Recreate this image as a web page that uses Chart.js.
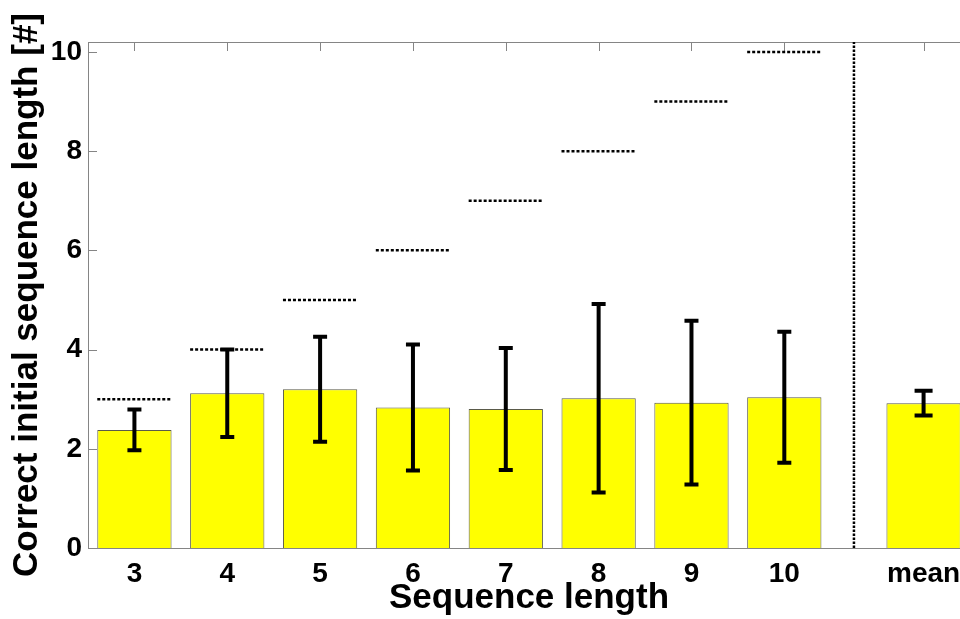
<!DOCTYPE html>
<html>
<head>
<meta charset="utf-8">
<script src="https://cdn.jsdelivr.net/npm/chart.js@4/dist/chart.umd.min.js"></script>
<style>
  html, body { margin: 0; padding: 0; background: #fff; overflow: hidden; }
  #wrap { width: 970px; height: 619px; }
</style>
</head>
<body>
<div id="wrap"><canvas id="chart" width="970" height="619"></canvas></div>
<script>
// positions on the x axis and their labels
const xPos = [1, 2, 3, 4, 5, 6, 7, 8, 9.5];
const xLabels = ['3', '4', '5', '6', '7', '8', '9', '10', 'mean'];
const yTicks = [0, 2, 4, 6, 8, 10];

// correct initial sequence length (mean and error)
const meanLen = [2.38, 3.12, 3.20, 2.83, 2.80, 3.02, 2.93, 3.04, 2.92];
const errLen = [0.41, 0.88, 1.06, 1.27, 1.23, 1.90, 1.65, 1.32, 0.25];

// full sequence length (dotted reference lines)
const targetLen = [3, 4, 5, 6, 7, 8, 9, 10];
const separatorX = 8.75;

const FONT = "'Liberation Sans', Arial, Helvetica, sans-serif";
const halfBar = 0.4;

const barData = xPos.map((x, i) => ({ x: x, y: meanLen[i] }));
const targetData = targetLen.map((t, i) => [
    { x: xPos[i] - halfBar, y: t },
    { x: xPos[i] + halfBar, y: t },
    { x: xPos[i] + halfBar, y: null }
]).flat();

// box + inward tick marks, like matlab axes
const frame = {
    id: 'frame',
    beforeDatasetsDraw(chart) {
        const { ctx, chartArea: a, scales: { x, y } } = chart;
        ctx.save();
        ctx.strokeStyle = '#858585';
        ctx.lineWidth = 1;
        ctx.strokeRect(Math.round(a.left) + 0.5, Math.round(a.top) + 0.5,
            Math.round(a.right - a.left), Math.round(a.bottom - a.top));
        ctx.beginPath();
        x.ticks.forEach(t => {
            const px = Math.round(x.getPixelForValue(t.value)) + 0.5;
            ctx.moveTo(px, a.bottom); ctx.lineTo(px, a.bottom - 9);
            ctx.moveTo(px, a.top); ctx.lineTo(px, a.top + 9);
        });
        y.ticks.forEach(t => {
            const py = Math.round(y.getPixelForValue(t.value)) + 0.5;
            ctx.moveTo(a.left, py); ctx.lineTo(a.left + 9, py);
            ctx.moveTo(a.right, py); ctx.lineTo(a.right - 9, py);
        });
        ctx.stroke();
        ctx.restore();
    }
};

const errorBars = {
    id: 'errorBars',
    afterDatasetsDraw(chart) {
        const { ctx, scales: { x, y } } = chart;
        ctx.save();
        ctx.strokeStyle = '#000';
        ctx.lineWidth = 4;
        xPos.forEach((xv, i) => {
            const px = x.getPixelForValue(xv);
            const top = y.getPixelForValue(meanLen[i] + errLen[i]);
            const bot = y.getPixelForValue(meanLen[i] - errLen[i]);
            const cap = xLabels[i] === 'mean' ? 9 : 7;
            ctx.beginPath();
            ctx.moveTo(px, top); ctx.lineTo(px, bot);
            ctx.moveTo(px - cap, top); ctx.lineTo(px + cap, top);
            ctx.moveTo(px - cap, bot); ctx.lineTo(px + cap, bot);
            ctx.stroke();
        });
        ctx.restore();
    }
};

new Chart(document.getElementById('chart').getContext('2d'), {
    type: 'bar',
    data: {
        datasets: [
            {
                type: 'line',
                data: targetData,
                borderColor: '#000',
                borderWidth: 2.5,
                borderDash: [3, 2],
                pointRadius: 0,
                spanGaps: false,
                order: 0
            },
            {
                type: 'line',
                data: [{ x: separatorX, y: 0 }, { x: separatorX, y: 10.2 }],
                borderColor: '#000',
                borderWidth: 2.5,
                borderDash: [2.5, 1.5],
                pointRadius: 0,
                order: 0
            },
            {
                type: 'bar',
                data: barData,
                backgroundColor: '#ffff00',
                borderColor: '#5a5a4a',
                borderWidth: 1,
                categoryPercentage: 1,
                barPercentage: 0.8,
                order: 1
            }
        ]
    },
    options: {
        responsive: false,
        animation: false,
        devicePixelRatio: 1,
        layout: { padding: { top: 42, left: 0, right: 0, bottom: 0 } },
        plugins: {
            legend: { display: false },
            tooltip: { enabled: false }
        },
        scales: {
            x: {
                type: 'linear',
                min: 0.5,
                max: 10,
                offset: false,
                grid: { display: false, drawTicks: false },
                border: { display: false },
                afterBuildTicks: s => { s.ticks = xPos.map(v => ({ value: v })); },
                afterFit: s => { s.height = 71; },
                ticks: {
                    autoSkip: false,
                    maxRotation: 0,
                    padding: 9,
                    color: '#000',
                    font: { family: FONT, size: 28, weight: 'bold' },
                    callback: (v, i) => xLabels[i]
                },
                title: {
                    display: true,
                    text: 'Sequence length',
                    color: '#000',
                    padding: { top: 0, bottom: 0 },
                    font: { family: FONT, size: 35, weight: 'bold' }
                }
            },
            y: {
                min: 0,
                max: 10.2,
                grid: { display: false, drawTicks: false },
                border: { display: false },
                afterBuildTicks: s => { s.ticks = yTicks.map(v => ({ value: v })); },
                afterFit: s => { s.width = 88; },
                ticks: {
                    padding: 6,
                    color: '#000',
                    font: { family: FONT, size: 28, weight: 'bold' }
                },
                title: {
                    display: true,
                    text: 'Correct initial sequence length [#]',
                    color: '#000',
                    padding: { top: 6, bottom: 0 },
                    font: { family: FONT, size: 35, weight: 'bold' }
                }
            }
        }
    },
    plugins: [frame, errorBars]
});
</script>
</body>
</html>
